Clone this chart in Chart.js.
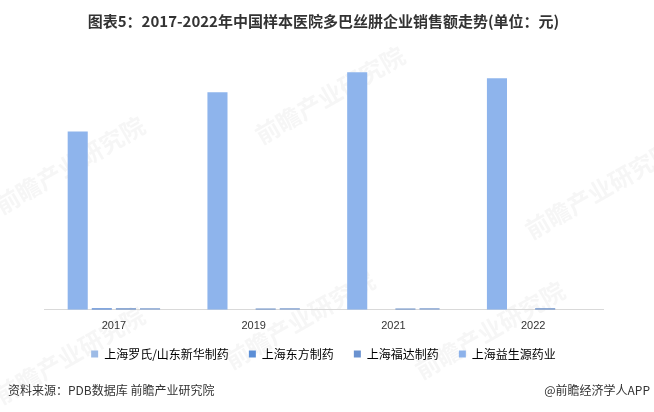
<!DOCTYPE html>
<html>
<head>
<meta charset="utf-8">
<script src="https://cdn.jsdelivr.net/npm/chart.js@4/dist/chart.umd.min.js"></script>
<style>
  html, body { margin: 0; padding: 0; background: #ffffff; }
  #wrap { position: relative; width: 654px; height: 412px; }
  canvas { display: block; }
</style>
</head>
<body>
<div id="wrap"><canvas id="chart" width="654" height="412"></canvas></div>
<script>
// Years on the category axis
const years = ['2017', '2019', '2021', '2022'];

// Sales per company, in yuan
const sales_luoshi_xinhua = [53300000, 65000000, 71000000, 69200000];
const sales_dongfang      = [470000, 0, 0, 0];
const sales_fuda          = [430000, 420000, 400000, 430000];
const sales_yishengyuan   = [450000, 460000, 440000, 0];

const seriesNames = ['上海罗氏/山东新华制药', '上海东方制药', '上海福达制药', '上海益生源药业'];
const seriesColors = ['#8EB4EC', '#5A8AD4', '#6A8FC8', '#7F9FD0'];
const legendColors = ['#9DBBE6', '#5B8ED6', '#6A92D0', '#8DB2EA'];

const titleText = '图表5：2017-2022年中国样本医院多巴丝肼企业销售额走势(单位：元)';
const sourceText = '资料来源：PDB数据库 前瞻产业研究院';
const brandText = '@前瞻经济学人APP';
const watermarkText = '前瞻产业研究院';

const cjk = '"Noto Sans CJK SC", "Noto Sans", sans-serif';

// Faint brand watermarks behind the plot
const watermarkPlugin = {
  id: 'watermarks',
  beforeDraw(chart) {
    const ctx = chart.ctx;
    const spots = [[70, 165], [330, 95], [600, 190], [300, 320], [70, 355], [490, 330]];
    ctx.save();
    ctx.fillStyle = 'rgba(150,150,150,0.09)';
    ctx.font = 'bold 24px ' + cjk;
    ctx.textAlign = 'center';
    ctx.textBaseline = 'middle';
    spots.forEach(([x, y]) => {
      ctx.save();
      ctx.translate(x, y);
      ctx.rotate(-Math.PI / 6);
      ctx.fillText(watermarkText, 0, 0);
      ctx.restore();
    });
    ctx.restore();
  }
};

// Source line and brand tag along the bottom
const footerPlugin = {
  id: 'footer',
  afterDraw(chart) {
    const ctx = chart.ctx;
    ctx.save();
    ctx.fillStyle = '#333333';
    ctx.font = '12px ' + cjk;
    ctx.textBaseline = 'middle';
    ctx.textAlign = 'left';
    ctx.fillText(sourceText, 8, 390);
    ctx.textAlign = 'right';
    ctx.fillText(brandText, 650, 390);
    ctx.restore();
  }
};

const allSeries = [sales_luoshi_xinhua, sales_dongfang, sales_fuda, sales_yishengyuan];

new Chart(document.getElementById('chart'), {
  type: 'bar',
  data: {
    labels: years,
    datasets: allSeries.map((vals, i) => ({
      label: seriesNames[i],
      data: vals,
      backgroundColor: seriesColors[i],
      borderWidth: 0,
      categoryPercentage: 0.69,
      barPercentage: 0.833
    }))
  },
  options: {
    responsive: false,
    animation: false,
    devicePixelRatio: 1,
    layout: { padding: { left: 44, right: 51, top: 0, bottom: 42 } },
    plugins: {
      title: {
        display: true,
        text: titleText,
        color: '#333333',
        font: { family: cjk, size: 15, weight: 'bold' },
        padding: { top: 12, bottom: 12 }
      },
      legend: {
        display: true,
        position: 'bottom',
        labels: {
          boxWidth: 7,
          boxHeight: 7,
          padding: 5,
          color: '#333333',
          font: { family: cjk, size: 12 },
          generateLabels(chart) {
            const n = chart.data.datasets.length;
            return chart.data.datasets.map((ds, i) => ({
              // wide spaces keep the entries apart
              text: i < n - 1 ? ds.label + '\u2003\u2005' : ds.label,
              fillStyle: legendColors[i],
              strokeStyle: legendColors[i],
              lineWidth: 0,
              hidden: false,
              datasetIndex: i
            }));
          }
        }
      },
      tooltip: { enabled: false }
    },
    scales: {
      x: {
        grid: { display: false, drawTicks: false, tickLength: 0 },
        border: { display: true, color: '#D9D9D9', width: 1 },
        ticks: { color: '#333333', font: { family: '"Liberation Sans", Arial, sans-serif', size: 11 }, padding: 10 }
      },
      y: {
        display: false,
        min: 0,
        max: 80000000
      }
    }
  },
  plugins: [watermarkPlugin, footerPlugin]
});
</script>
</body>
</html>
